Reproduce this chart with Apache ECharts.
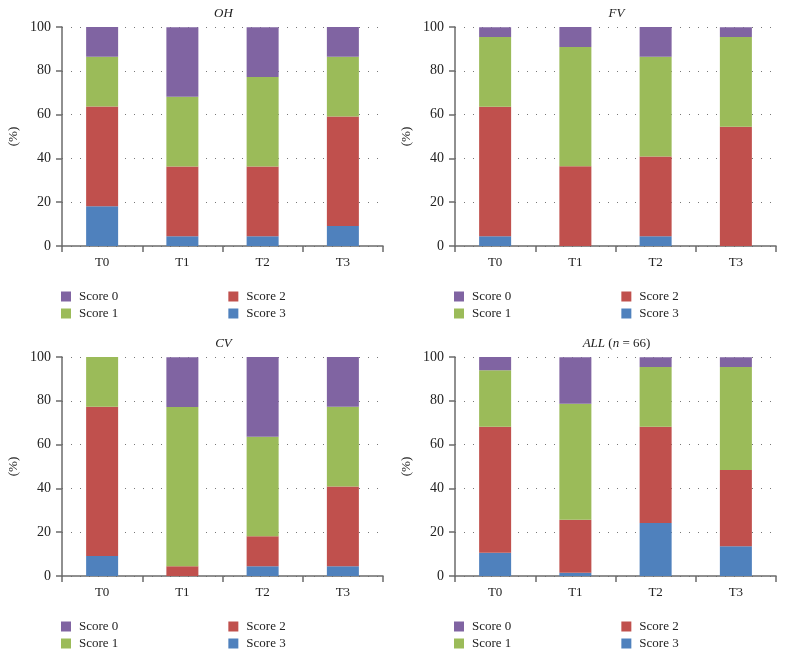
<!DOCTYPE html>
<html>
<head>
<meta charset="utf-8">
<script src="https://cdn.jsdelivr.net/npm/echarts@6/dist/echarts.min.js"></script>
<style>
html,body{margin:0;padding:0;background:#fff;}
#c{width:785px;height:656px;}
</style>
</head>
<body>
<div id="c"></div>
<script>
// Data (percent of patients per score)
const categories = ['T0', 'T1', 'T2', 'T3'];
const yTicks = [0, 20, 40, 60, 80, 100];
const panelTitles = ['{i|OH}', '{i|FV}', '{i|CV}', '{i|ALL} ({i|n} = 66)'];
const seriesNames = ['Score 3', 'Score 2', 'Score 1', 'Score 0'];

const ohScore3 = [18.2, 4.5, 4.5, 9.1];
const ohScore2 = [45.5, 31.8, 31.8, 50.0];
const ohScore1 = [22.7, 31.8, 40.9, 27.3];
const ohScore0 = [13.6, 31.8, 22.7, 13.6];

const fvScore3 = [4.5, 0, 4.5, 0];
const fvScore2 = [59.1, 36.4, 36.4, 54.5];
const fvScore1 = [31.8, 54.5, 45.5, 40.9];
const fvScore0 = [4.5, 9.1, 13.6, 4.5];

const cvScore3 = [9.1, 0, 4.5, 4.5];
const cvScore2 = [68.2, 4.5, 13.6, 36.4];
const cvScore1 = [22.7, 72.7, 45.5, 36.4];
const cvScore0 = [0, 22.7, 36.4, 22.7];

const allScore3 = [10.6, 1.5, 24.2, 13.6];
const allScore2 = [57.6, 24.2, 43.9, 34.8];
const allScore1 = [25.8, 53.0, 27.3, 47.0];
const allScore0 = [6.1, 21.2, 4.5, 4.5];

const panels = [
  [ohScore3, ohScore2, ohScore1, ohScore0],
  [fvScore3, fvScore2, fvScore1, fvScore0],
  [cvScore3, cvScore2, cvScore1, cvScore0],
  [allScore3, allScore2, allScore1, allScore0]
];

const colors = {'Score 0': '#8064A2', 'Score 1': '#9BBB59', 'Score 2': '#C0504D', 'Score 3': '#4F81BD'};
const FONT = '"Liberation Serif", "DejaVu Serif", serif';
const AXIS_COLOR = '#6b6b6b';

const gridPos = [
  {left: 62, top: 27}, {left: 455, top: 27},
  {left: 62, top: 357}, {left: 455, top: 357}
];
const GW = 321, GH = 219;

const grids = [], xAxes = [], yAxes = [], series = [], titles = [], legends = [];
gridPos.forEach((g, i) => {
  grids.push({left: g.left, top: g.top, width: GW, height: GH, containLabel: false});
  xAxes.push({
    type: 'category', gridIndex: i, data: categories,
    axisLine: {lineStyle: {color: AXIS_COLOR, width: 1.5}},
    axisTick: {show: true, length: 6, lineStyle: {color: AXIS_COLOR, width: 1.5}},
    axisLabel: {color: '#222', fontFamily: FONT, fontSize: 13, margin: 10},
    splitLine: {show: false}
  });
  yAxes.push({
    type: 'value', gridIndex: i, min: yTicks[0], max: yTicks[yTicks.length - 1], interval: 20,
    name: '(%)', nameLocation: 'middle', nameGap: 42, nameRotate: 90,
    nameTextStyle: {color: '#222', fontFamily: FONT, fontSize: 13},
    axisLine: {show: true, lineStyle: {color: AXIS_COLOR, width: 1.5}},
    axisTick: {show: true, length: 6, lineStyle: {color: AXIS_COLOR, width: 1.5}},
    axisLabel: {color: '#222', fontFamily: FONT, fontSize: 14, margin: 11},
    splitLine: {show: true, lineStyle: {color: '#777', width: 1, type: [1, 8]}}
  });
  panels[i].forEach((vals, k) => {
    series.push({
      name: seriesNames[k], type: 'bar', xAxisIndex: i, yAxisIndex: i,
      stack: 'p' + i, data: vals, barWidth: 32,
      itemStyle: {color: colors[seriesNames[k]]},
      emphasis: {disabled: true}
    });
  });
  titles.push({
    text: panelTitles[i], left: g.left + GW / 2 - 4, top: g.top - 25, textAlign: 'center',
    textStyle: {fontFamily: FONT, fontSize: 13, fontWeight: 'normal', color: '#222',
      rich: {i: {fontStyle: 'italic', fontFamily: FONT, fontSize: 13, color: '#222'}}}
  });
  const ly = g.top + GH + 44;
  const rows = [['Score 0', 'Score 2'], ['Score 1', 'Score 3']];
  rows.forEach((r, ri) => {
    legends.push({
      data: r, left: g.left - 1, top: ly + ri * 17, orient: 'horizontal',
      itemWidth: 10, itemHeight: 10, itemGap: 110, icon: 'rect',
      selectedMode: false, padding: 0,
      textStyle: {fontFamily: FONT, fontSize: 13, color: '#222', padding: [0, 0, 0, 3]}
    });
  });
});

const chart = echarts.init(document.getElementById('c'), null, {renderer: 'canvas'});
chart.setOption({
  animation: false,
  backgroundColor: '#fff',
  title: titles,
  legend: legends,
  grid: grids,
  xAxis: xAxes,
  yAxis: yAxes,
  series: series
});
</script>
</body>
</html>
